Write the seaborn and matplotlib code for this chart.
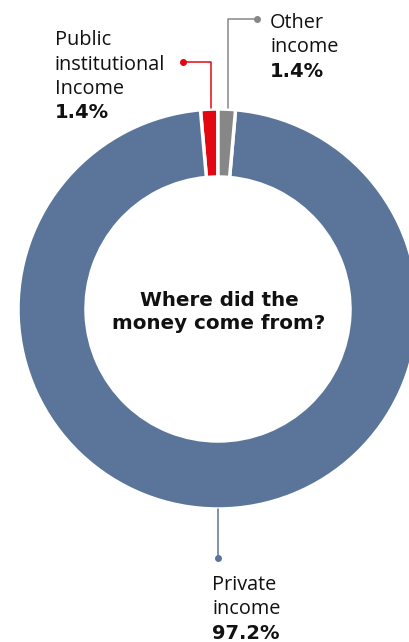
import numpy as np
import matplotlib
matplotlib.use("Agg")
import matplotlib.pyplot as plt
import seaborn as sns

# data
sources = ["Public institutional Income", "Private income", "Other income"]
shares = [1.4, 97.2, 1.4]
label_lines = [["Public", "institutional", "Income"], ["Private", "income"], ["Other", "income"]]
colors = ["#e30613", "#5a7599", "#878787"]

W, H = 409, 642
sns.set_theme(style="white")
plt.rcParams["font.family"] = ["Open Sans", "DejaVu Sans"]


def Y(y):
    # pixel row (from the top) -> data y
    return H - y


fig = plt.figure(figsize=(W / 100, H / 100), dpi=100)
ax = fig.add_axes([0, 0, 1, 1])

cx, cy, r_out, r_in = 218, Y(309), 200, 132
wedges, _ = ax.pie(shares, colors=colors, startangle=90, counterclock=True,
                   center=(cx, cy), radius=r_out,
                   wedgeprops=dict(width=r_out - r_in, edgecolor="white", linewidth=2.5))
ax.set_xlim(0, W)
ax.set_ylim(0, H)
ax.set_aspect("equal")
ax.axis("off")


def mid_x(w):
    a = np.deg2rad((w.theta1 + w.theta2) / 2)
    return cx + r_out * np.cos(a)


# leader lines
lw = 1.1
# public (red)
x0 = mid_x(wedges[0]) + 2
ax.plot([x0, x0, 183], [Y(108), Y(62), Y(62)], color=colors[0], lw=lw)
ax.plot(183, Y(62), "o", color=colors[0], ms=4)
# other (grey)
x2 = mid_x(wedges[2]) + 1
ax.plot([x2, x2, 257], [Y(108), Y(19), Y(19)], color=colors[2], lw=lw)
ax.plot(257, Y(19), "o", color=colors[2], ms=4)
# private (blue)
ax.plot([cx, cx], [Y(509), Y(558)], color=colors[1], lw=lw)
ax.plot(cx, Y(558), "o", color=colors[1], ms=4)

# labels
fs = 14.3
step = 24.5
def label(x, y0, lines, pct):
    for i, t in enumerate(lines):
        ax.text(x, Y(y0 + i * step), t, fontsize=fs, ha="left", va="baseline", color="#111111")
    ax.text(x, Y(y0 + len(lines) * step), f"{pct:.1f}%", fontsize=14, fontweight="bold",
            ha="left", va="baseline", color="#111111", family=["DejaVu Sans"])

label(55, 45, label_lines[0], shares[0])
label(270, 28, label_lines[2], shares[2])
label(212, 590, label_lines[1], shares[1])

ax.text(cx + 1, Y(312), "Where did the\nmoney come from?", ha="center", va="center",
        fontsize=14.3, fontweight="bold", color="#111111", linespacing=1.3,
        family=["DejaVu Sans"])

fig.savefig("out.png", dpi=100)
